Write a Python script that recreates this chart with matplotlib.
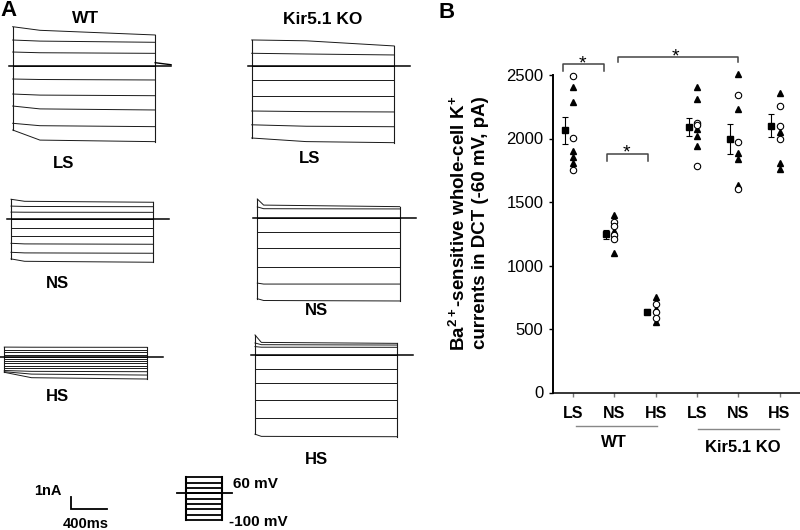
import numpy as np
import matplotlib
matplotlib.use('Agg')
import matplotlib.pyplot as plt

plt.rcParams['font.family'] = ['Liberation Sans', 'DejaVu Sans']
plt.rcParams['mathtext.default'] = 'regular'

W, H = 800, 530

# ---------------- panel B data (pA) ----------------
groups = ['LS', 'NS', 'HS', 'LS', 'NS', 'HS']
wt_ls_tri = [2403, 2290, 1904, 1857, 1809]
wt_ls_circ = [2492, 2006, 1752]
wt_ns_tri = [1400, 1275, 1100]
wt_ns_circ = [1340, 1310, 1240, 1205]
wt_hs_tri = [755, 655, 555]
wt_hs_circ = [700, 630, 585]
ko_ls_tri = [2408, 2309, 2072, 2020, 1941]
ko_ls_circ = [2125, 2106, 1786]
ko_ns_tri = [2508, 2230, 1888, 1841, 1632]
ko_ns_circ = [2343, 1970, 1605]
ko_hs_tri = [2356, 2049, 1805, 1757]
ko_hs_circ = [2256, 2101, 1994]
means = [2064, 1245, 636, 2090, 1994, 2101]
sems = [105, 37, 20, 68, 118, 92]

# ---------------- panel A data (nA, relative to holding current) ----------------
# each trace: value at pulse start, early value, value at pulse end
wt_ls_start = [3.25, 2.14, 1.14, 0, -1.11, -2.36, -3.36, -4.80, -5.36]
wt_ls_early = [2.95, 2.05, 1.08, 0, -1.15, -2.45, -3.60, -5.00, -6.20]
wt_ls_end = [2.56, 1.95, 1.03, 0, -1.19, -2.50, -3.69, -5.08, -6.33]
wt_ns_start = [1.67, 1.10, 0.60, 0, -0.70, -1.39, -2.00, -2.75, -3.30]
wt_ns_early = [1.50, 1.07, 0.59, 0, -0.70, -1.39, -2.05, -2.80, -3.50]
wt_ns_end = [1.42, 1.05, 0.58, 0, -0.70, -1.39, -2.08, -2.83, -3.58]
wt_hs_start = [0.80, 0.56, 0.37, 0.17, 0, -0.19, -0.36, -0.55, -0.75, -0.97, -1.15, -1.25, -1.30]
wt_hs_early = [0.79, 0.56, 0.37, 0.17, 0, -0.19, -0.36, -0.55, -0.75, -0.97, -1.22, -1.45, -1.75]
wt_hs_end = [0.78, 0.56, 0.37, 0.17, 0, -0.19, -0.36, -0.55, -0.75, -0.97, -1.25, -1.53, -1.86]
ko_ls_start = [2.17, 1.06, 0, -1.17, -2.48, -3.75, -4.90, -6.00]
ko_ls_early = [2.10, 1.00, 0, -1.17, -2.48, -3.80, -5.02, -6.30]
ko_ls_end = [1.67, 0.92, 0, -1.17, -2.48, -3.83, -5.06, -6.39]
ko_ns_start = [1.61, 0.95, 0, -1.17, -2.50, -4.03, -5.40, -6.70]
ko_ns_early = [1.10, 0.80, 0, -1.17, -2.50, -4.03, -5.48, -6.85]
ko_ns_end = [0.97, 0.78, 0, -1.17, -2.50, -4.03, -5.48, -6.89]
ko_hs_start = [1.67, 1.00, 0.70, 0, -1.17, -2.36, -3.75, -5.23, -6.60]
ko_hs_early = [1.05, 0.86, 0.65, 0, -1.17, -2.36, -3.75, -5.23, -6.78]
ko_hs_end = [0.97, 0.83, 0.64, 0, -1.17, -2.36, -3.75, -5.23, -6.81]
pulse_ms = 1570
pre_ms = 45
post_ms = 175
step_mv = [60, 40, 20, 0, -20, -40, -60, -80, -100]
hold_mv = 0

MS_PER_PX = 400 / 36.3
PX_PER_NA = 12.0

fig = plt.figure(figsize=(8, 5.3), dpi=100)


def px_axes(l, t, r, b):
    ax = fig.add_axes([l / W, 1 - b / H, (r - l) / W, (b - t) / H])
    ax.axis('off')
    ax.patch.set_visible(False)
    return ax


def draw_traces(x0, yb, start, early, end, t_early, tail=False):
    ax = px_axes(x0 - 12, yb - 50, x0 + 175, yb + 90)
    ax.set_xlim(-12 * MS_PER_PX, 175 * MS_PER_PX)
    ax.set_ylim(-90 / PX_PER_NA, 50 / PX_PER_NA)
    for s, e, f in zip(start, early, end):
        ax.plot([0, t_early, pulse_ms], [s, e, f], color='#1a1a1a', lw=0.7)
    ax.plot([0, 0], [min(start), max(start)], color='#1a1a1a', lw=0.8)
    ax.plot([pulse_ms, pulse_ms], [min(end), max(end)], color='#1a1a1a', lw=0.8)
    ax.plot([-pre_ms, pulse_ms + post_ms], [0, 0], color='k', lw=1.1)
    if tail:
        ax.plot([pulse_ms, pulse_ms + post_ms], [0.25, 0.08], color='k', lw=1.0)


draw_traces(12.7, 65.7, wt_ls_start, wt_ls_early, wt_ls_end, 300, tail=True)
draw_traces(11.0, 219.3, wt_ns_start, wt_ns_early, wt_ns_end, 150)
draw_traces(4.3, 356.7, wt_hs_start, wt_hs_early, wt_hs_end, 300)
draw_traces(251.7, 66.0, ko_ls_start, ko_ls_early, ko_ls_end, 600)
draw_traces(257.3, 218.3, ko_ns_start, ko_ns_early, ko_ns_end, 70)
draw_traces(255.0, 355.0, ko_hs_start, ko_hs_early, ko_hs_end, 70)

# scale bar
axs = px_axes(60, 490, 120, 515)
axs.set_xlim(-11 * MS_PER_PX, 49 * MS_PER_PX)
axs.set_ylim(-5.7 / PX_PER_NA, 19.3 / PX_PER_NA)
axs.plot([0, 0, 400], [1, 0, 0], color='k', lw=1.3, solid_joinstyle='miter')

# voltage protocol
axp = px_axes(170, 470, 240, 530)
mv_per_px = 160 / 48.7
axp.set_xlim(-16 / 35.7, 54 / 35.7)
axp.set_ylim(60 - 60 * mv_per_px, 60 + 8.3 * mv_per_px)
for v in step_mv:
    axp.plot([0, 1], [v, v], color='k', lw=1.3)
axp.plot([0, 0], [min(step_mv), max(step_mv)], color='k', lw=1.5)
axp.plot([1, 1], [min(step_mv), max(step_mv)], color='k', lw=1.5)
axp.plot([-0.26, 1.28], [hold_mv, hold_mv], color='k', lw=1.3)


def ftext(x, y, s, **kw):
    fig.text(x / W, 1 - y / H, s, **kw)


ftext(0, 10, 'A', fontsize=16, fontweight='bold', ha='left', va='center')
ftext(438, 13, 'B', fontsize=16, fontweight='bold', ha='left', va='center')
ftext(85.3, 18.3, 'WT', fontsize=12.5, fontweight='bold', ha='center', va='center')
ftext(322.5, 19.7, 'Kir5.1 KO', fontsize=12.5, fontweight='bold', ha='center', va='center')
for x, y, s in [(63.7, 163.3, 'LS'), (310, 158.3, 'LS'), (57, 283.3, 'NS'),
                (316.3, 310.8, 'NS'), (57, 396.3, 'HS'), (316, 459.2, 'HS')]:
    ftext(x, y, s, fontsize=12, fontweight='bold', ha='center', va='center')
ftext(48.3, 491, '1nA', fontsize=10.5, fontweight='bold', ha='center', va='center')
ftext(86.2, 524.5, '400ms', fontsize=10.5, fontweight='bold', ha='center', va='center')
ftext(232.7, 484, '60 mV', fontsize=11, fontweight='bold', ha='left', va='center')
ftext(229.3, 522.5, '-100 mV', fontsize=11, fontweight='bold', ha='left', va='center')

# ---------------- panel B ----------------
axB = fig.add_axes([553 / W, 1 - 392.5 / H, 247 / W, 317.5 / H])
axB.set_xlim(0.516, 6.496)
axB.set_ylim(0, 2500)
pos = np.arange(1, 7)
tris = [wt_ls_tri, wt_ns_tri, wt_hs_tri, ko_ls_tri, ko_ns_tri, ko_hs_tri]
circs = [wt_ls_circ, wt_ns_circ, wt_hs_circ, ko_ls_circ, ko_ns_circ, ko_hs_circ]
for p, tv, cv, m, e in zip(pos, tris, circs, means, sems):
    axB.plot([p] * len(tv), tv, '^', color='k', ms=5.0, clip_on=False)
    axB.plot([p] * len(cv), cv, 'o', mfc='white', mec='k', mew=0.8, ms=4.6, clip_on=False)
    axB.errorbar(p - 0.2, m, yerr=e, fmt='s', color='k', ms=5, capsize=2.4,
                 elinewidth=0.8, capthick=0.8)

for sp in ['top', 'right']:
    axB.spines[sp].set_visible(False)
axB.spines['left'].set_linewidth(1.4)
axB.spines['bottom'].set_linewidth(1.1)
axB.set_yticks([0, 500, 1000, 1500, 2000, 2500])
axB.set_xticks(pos)
axB.set_xticklabels(groups, fontsize=11.5, fontweight='bold')
axB.tick_params(axis='y', direction='out', length=3, width=1, labelsize=12, pad=4)
axB.tick_params(axis='x', direction='out', length=3, width=1, pad=7, colors='#777',
                labelcolor='k')

# significance brackets
br = '#444444'
axB.plot([0.75, 0.75, 1.76, 1.76], [2534, 2584, 2584, 2534], color=br, lw=1.1, clip_on=False)
axB.plot([2.10, 2.10, 4.99, 4.99], [2600, 2639, 2639, 2600], color=br, lw=1.1, clip_on=False)
axB.plot([1.82, 1.82, 2.82, 2.82], [1825, 1878, 1878, 1825], color=br, lw=1.1, clip_on=False)
for x, y in [(1.235, 2553), (3.49, 2605), (2.30, 1849)]:
    axB.text(x, y, '*', fontsize=14, ha='center', va='baseline', clip_on=False)

# group lines and labels under the x axis
tr = axB.get_xaxis_transform()
axB.plot([1.07, 3.03], [-0.1055, -0.1055], color='#888888', lw=1, transform=tr, clip_on=False)
axB.plot([4.02, 5.98], [-0.115, -0.115], color='#888888', lw=1, transform=tr, clip_on=False)
axB.text(2.0, -0.158, 'WT', transform=tr, fontsize=12, fontweight='bold', ha='center', va='center')
axB.text(5.1, -0.172, 'Kir5.1 KO', transform=tr, fontsize=12, fontweight='bold', ha='center', va='center')

ftext(469, 223.5, 'Ba$^{2+}$-sensitive whole-cell K$^{+}$\ncurrents in DCT (-60 mV, pA)',
      fontsize=13.5, fontweight='bold', rotation=90, ha='center', va='center',
      multialignment='right', linespacing=1.2)

fig.savefig('out.png', dpi=100)
